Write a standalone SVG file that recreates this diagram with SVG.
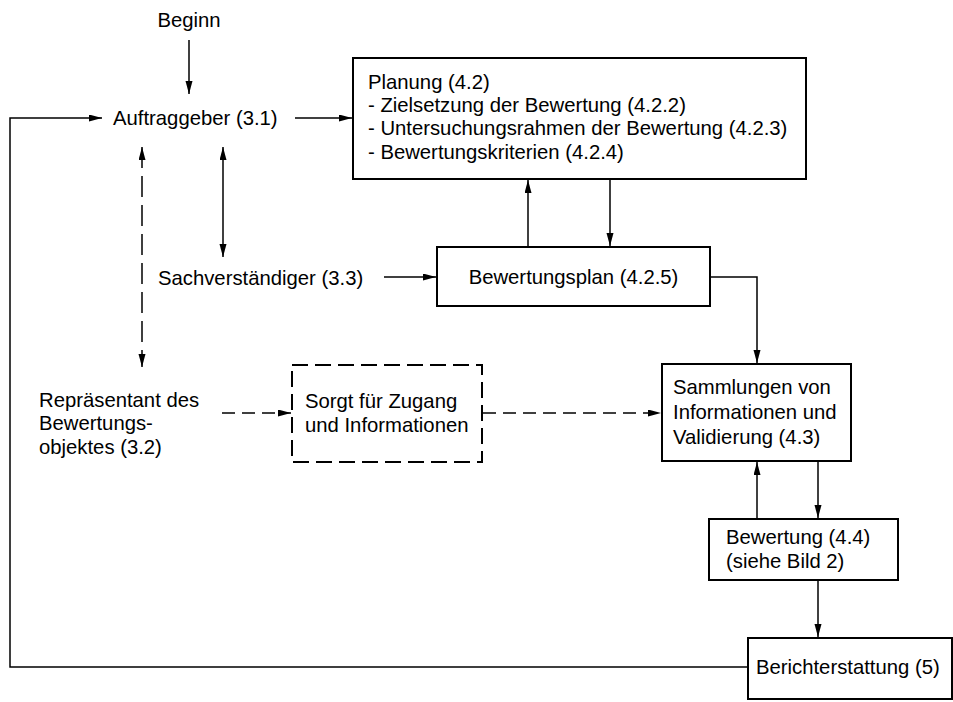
<svg xmlns="http://www.w3.org/2000/svg" width="953" height="702" viewBox="0 0 953 702">
<style>
text{font-family:"Liberation Sans",Arial,sans-serif;font-size:20.3px;fill:#000}
.box{fill:#fff;stroke:#000;stroke-width:2}
.dbox{fill:#fff;stroke:#000;stroke-width:2;stroke-dasharray:16 7}
.c{fill:none;stroke:#000;stroke-width:1.5}
.a{marker-end:url(#ah)}
.aa{marker-end:url(#ah);marker-start:url(#ah)}
.d{stroke-dasharray:13 7}
.dv{stroke-dasharray:21 8}
</style>
<defs>
<marker id="ah" markerUnits="userSpaceOnUse" markerWidth="14" markerHeight="8" refX="13" refY="3.5" orient="auto-start-reverse" viewBox="0 0 14 8">
<path d="M0,0 L13,3.5 L0,7 z" fill="#000"/>
</marker>
</defs>
<rect width="953" height="702" fill="#fff"/>
<g id="connectors">
<line class="c a" x1="189" y1="40" x2="189" y2="94"/>
<line class="c a" x1="295" y1="118" x2="352" y2="118"/>
<line class="c aa d dv" x1="142" y1="147" x2="142" y2="367"/>
<line class="c aa" x1="223" y1="147" x2="223" y2="257"/>
<line class="c a" x1="384" y1="277" x2="436" y2="277"/>
<line class="c a" x1="528" y1="247" x2="528" y2="180"/>
<line class="c a" x1="610" y1="179" x2="610" y2="246"/>
<polyline class="c a" points="710,277 757,277 757,363"/>
<line class="c a d" x1="222" y1="413" x2="291" y2="413"/>
<line class="c a d" x1="483" y1="413" x2="661" y2="413"/>
<line class="c a" x1="757" y1="519" x2="757" y2="462"/>
<line class="c a" x1="818" y1="461" x2="818" y2="518"/>
<line class="c a" x1="818" y1="580" x2="818" y2="637"/>
<polyline class="c a" points="748,667 10,667 10,118 102,118"/>
</g>
<g id="beginn"><text x="189" y="27" text-anchor="middle">Beginn</text></g>
<g id="auftraggeber"><text x="113" y="125">Auftraggeber (3.1)</text></g>
<g id="planung">
<rect class="box" x="353" y="58" width="453" height="121"/>
<text x="368" y="89">Planung (4.2)</text>
<text x="368" y="112">- Zielsetzung der Bewertung (4.2.2)</text>
<text x="368" y="135">- Untersuchungsrahmen der Bewertung (4.2.3)</text>
<text x="368" y="159">- Bewertungskriterien (4.2.4)</text>
</g>
<g id="sachverstaendiger"><text x="158" y="285">Sachverständiger (3.3)</text></g>
<g id="bewertungsplan">
<rect class="box" x="437" y="247" width="273" height="59"/>
<text x="573.5" y="284" text-anchor="middle">Bewertungsplan (4.2.5)</text>
</g>
<g id="repraesentant">
<text x="39" y="407">Repräsentant des</text>
<text x="39" y="430">Bewertungs-</text>
<text x="39" y="454">objektes (3.2)</text>
</g>
<g id="sorgt">
<rect class="dbox" x="292" y="365" width="190" height="97"/>
<text x="305" y="408">Sorgt für Zugang</text>
<text x="305" y="432">und Informationen</text>
</g>
<g id="sammlungen">
<rect class="box" x="662" y="364" width="189" height="97"/>
<text x="673" y="394">Sammlungen von</text>
<text x="673" y="419">Informationen und</text>
<text x="673" y="444">Validierung (4.3)</text>
</g>
<g id="bewertung">
<rect class="box" x="709" y="519" width="189" height="61"/>
<text x="726" y="544">Bewertung (4.4)</text>
<text x="726" y="568">(siehe Bild 2)</text>
</g>
<g id="berichterstattung">
<rect class="box" x="748" y="638" width="204" height="61"/>
<text x="756" y="674">Berichterstattung (5)</text>
</g>
</svg>
